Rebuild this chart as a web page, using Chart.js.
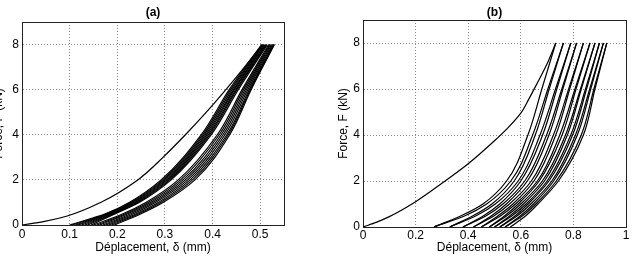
<!DOCTYPE html>
<html>
<head>
<meta charset="utf-8">
<script src="https://cdn.jsdelivr.net/npm/chart.js@4.4.1/dist/chart.umd.min.js"></script>
<style>
  body { margin: 0; background: #fff; }
  #wrap { position: relative; width: 633px; height: 263px; overflow: hidden; }
  canvas { position: absolute; top: 0; }
  #chartA { left: -10px; }
  #chartB { left: 313px; }
</style>
</head>
<body>
<div id="wrap">
  <canvas id="chartA" width="310" height="263"></canvas>
  <canvas id="chartB" width="320" height="263"></canvas>
</div>
<script>
// (a) first loading curve
const firstLoadDispA = [0, 0.045, 0.095, 0.165, 0.243, 0.296, 0.343, 0.387, 0.428, 0.467, 0.504];
const firstLoadForceA = [0, 0.15, 0.4, 1, 2, 3, 4, 5, 6, 7, 8];

// (a) following cycles: displacement read at each force level
const forceLevelsA = [0, 0.5, 1, 2, 4, 6, 8];
const cyclesDispA = [
    [0.100, 0.175, 0.225, 0.292, 0.376, 0.435, 0.503],
    [0.105, 0.178, 0.228, 0.295, 0.379, 0.438, 0.505],
    [0.112, 0.181, 0.231, 0.298, 0.382, 0.441, 0.506],
    [0.118, 0.184, 0.234, 0.301, 0.385, 0.444, 0.508],
    [0.125, 0.187, 0.237, 0.304, 0.388, 0.446, 0.510],
    [0.132, 0.190, 0.240, 0.307, 0.391, 0.449, 0.512],
    [0.138, 0.193, 0.243, 0.310, 0.394, 0.451, 0.513],
    [0.145, 0.196, 0.246, 0.313, 0.397, 0.454, 0.515],
    [0.150, 0.212, 0.260, 0.328, 0.410, 0.462, 0.518],
    [0.157, 0.217, 0.265, 0.333, 0.414, 0.465, 0.520],
    [0.163, 0.222, 0.270, 0.338, 0.418, 0.468, 0.522],
    [0.170, 0.228, 0.275, 0.343, 0.422, 0.471, 0.524],
    [0.176, 0.234, 0.280, 0.348, 0.426, 0.474, 0.526],
    [0.182, 0.240, 0.286, 0.353, 0.430, 0.477, 0.528],
    [0.188, 0.245, 0.291, 0.358, 0.433, 0.479, 0.529],
    [0.194, 0.250, 0.296, 0.363, 0.436, 0.481, 0.530]
];

// (b) first loading curve
const firstLoadDispB = [0, 0.05, 0.1, 0.2, 0.3, 0.4, 0.5, 0.55, 0.6, 0.63, 0.66, 0.7, 0.733];
const firstLoadForceB = [0, 0.2, 0.45, 1.1, 1.9, 2.75, 3.75, 4.3, 4.95, 5.55, 6.2, 7.1, 8];

// (b) unloading / reloading branches
const forceLevelsB = [0, 0.5, 1, 2, 4, 6, 8];
const cyclesDispB = [
    [0.270, 0.375, 0.456, 0.546, 0.627, 0.680, 0.733],
    [0.270, 0.390, 0.470, 0.562, 0.645, 0.703, 0.762],
    [0.330, 0.420, 0.490, 0.575, 0.655, 0.708, 0.762],
    [0.330, 0.432, 0.503, 0.590, 0.673, 0.732, 0.790],
    [0.380, 0.460, 0.520, 0.600, 0.683, 0.737, 0.790],
    [0.380, 0.470, 0.532, 0.615, 0.698, 0.756, 0.812],
    [0.420, 0.490, 0.545, 0.625, 0.707, 0.760, 0.812],
    [0.420, 0.500, 0.557, 0.640, 0.724, 0.782, 0.838],
    [0.450, 0.515, 0.570, 0.650, 0.733, 0.786, 0.838],
    [0.450, 0.525, 0.580, 0.663, 0.748, 0.806, 0.863],
    [0.480, 0.540, 0.590, 0.670, 0.757, 0.810, 0.863],
    [0.480, 0.548, 0.600, 0.682, 0.770, 0.827, 0.882],
    [0.500, 0.560, 0.610, 0.690, 0.777, 0.830, 0.882],
    [0.500, 0.568, 0.620, 0.700, 0.790, 0.846, 0.899],
    [0.520, 0.580, 0.628, 0.707, 0.797, 0.850, 0.899],
    [0.520, 0.588, 0.638, 0.718, 0.808, 0.862, 0.914],
    [0.540, 0.600, 0.648, 0.725, 0.815, 0.866, 0.914],
    [0.540, 0.608, 0.657, 0.735, 0.830, 0.878, 0.927],
    [0.560, 0.620, 0.665, 0.743, 0.838, 0.882, 0.927]
];

const fontFamily = "'Liberation Sans', Arial, sans-serif";

// curves are read as displacement at a given force, so the spline runs along the force axis
function curve(xs, ys) {
    return {
        data: xs.map((x, i) => ({ x: x, y: ys[i] })),
        indexAxis: 'y',
        borderColor: '#000',
        borderWidth: 1.2,
        pointRadius: 0,
        fill: false,
        cubicInterpolationMode: 'monotone'
    };
}

function buildDatasets(firstX, firstY, levels, rows) {
    const sets = [curve(firstX, firstY)];
    rows.forEach(r => sets.push(curve(r, levels)));
    return sets;
}

function makeChart(id, datasets, opt) {
    const ctx = document.getElementById(id);
    return new Chart(ctx, {
        type: 'line',
        data: { datasets: datasets },
        options: {
            responsive: false,
            animation: false,
            events: [],
            layout: { padding: { left: 0, right: opt.padRight, top: 0, bottom: 0 } },
            plugins: { legend: { display: false }, tooltip: { enabled: false } },
            scales: {
                x: {
                    type: 'linear', position: 'bottom', min: 0, max: opt.xMax,
                    ticks: {
                        stepSize: opt.xStep, includeBounds: false, maxRotation: 0,
                        padding: opt.xTickPad, color: '#000',
                        font: { family: fontFamily, size: 12 },
                        callback: v => String(Math.round(v * 100) / 100)
                    },
                    grid: { color: 'rgba(0,0,0,0.45)', drawTicks: false },
                    border: { color: '#222', dash: [1, 2] },
                    title: {
                        display: true, text: 'Déplacement, δ (mm)', color: '#000',
                        font: { family: fontFamily, size: 12 },
                        padding: { top: 0, bottom: 8 }
                    },
                    afterFit: s => { s.height = opt.xHeight; }
                },
                y: {
                    type: 'linear', position: 'left', min: 0, max: 9,
                    ticks: {
                        stepSize: 2, includeBounds: false, padding: 3, color: '#000',
                        font: { family: fontFamily, size: 12 }
                    },
                    grid: { color: 'rgba(0,0,0,0.45)', drawTicks: false },
                    border: { color: '#222', dash: [1, 2] },
                    title: {
                        display: true, text: 'Force, F (kN)', color: '#000',
                        font: { family: fontFamily, size: 12 },
                        padding: { top: opt.yTitlePad, bottom: 0 }
                    },
                    afterFit: s => { s.width = opt.yWidth; }
                },
                x2: {
                    type: 'linear', position: 'top', min: 0, max: 1,
                    ticks: { display: false },
                    grid: { display: false, drawTicks: false },
                    border: { color: '#222' },
                    title: {
                        display: true, text: opt.title, color: '#000',
                        font: { family: fontFamily, size: 12, weight: 'bold' },
                        padding: { top: 5, bottom: 0 }
                    },
                    afterFit: s => { s.height = opt.topHeight; }
                },
                y2: {
                    type: 'linear', position: 'right', min: 0, max: 1,
                    ticks: { display: false },
                    grid: { display: false, drawTicks: false },
                    border: { color: '#222' },
                    afterFit: s => { s.width = 1; }
                }
            }
        }
    });
}

makeChart('chartA', buildDatasets(firstLoadDispA, firstLoadForceA, forceLevelsA, cyclesDispA), {
    title: '(a)', xMax: 0.55, xStep: 0.1, xTickPad: 2, xHeight: 38,
    yWidth: 32, yTitlePad: 1, topHeight: 22, padRight: 15
});

makeChart('chartB', buildDatasets(firstLoadDispB, firstLoadForceB, forceLevelsB, cyclesDispB), {
    title: '(b)', xMax: 1, xStep: 0.2, xTickPad: 1, xHeight: 36,
    yWidth: 50, yTitlePad: 23, topHeight: 20, padRight: 6
});
</script>
</body>
</html>
